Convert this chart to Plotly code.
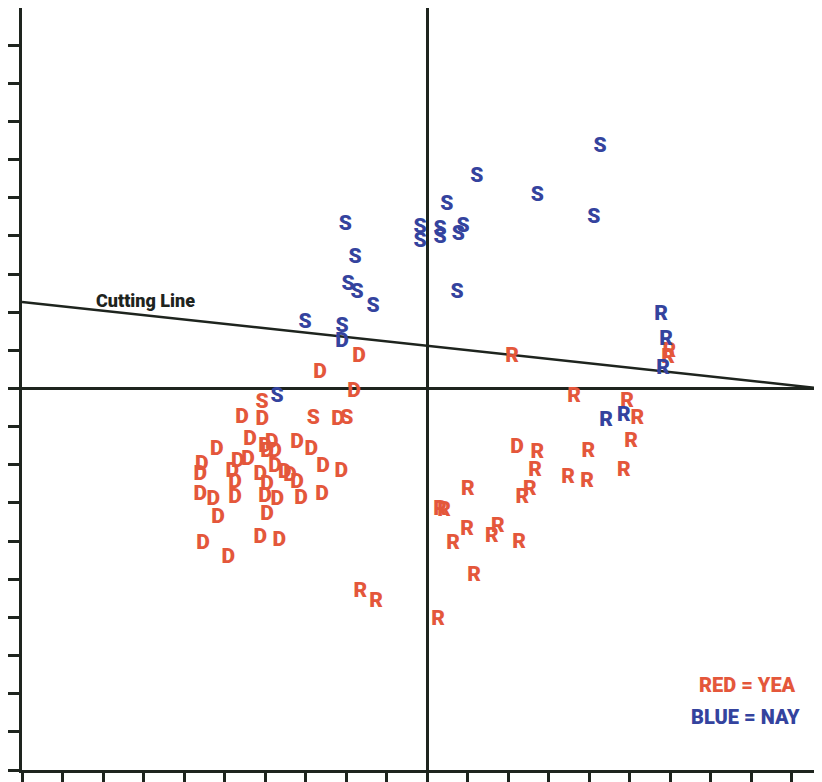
import plotly.graph_objects as go

# ---- data (NOMINATE-style coordinates) ----
# Nay voters (blue)
nay_party = ["S"] * 20 + ["D"] + ["R"] * 5
nay_x = [0.427, 0.123, 0.272, 0.412, 0.049, -0.202, -0.017, -0.017, 0.032, 0.032,
         0.089, 0.077, 0.074, -0.178, -0.195, -0.173, -0.133, -0.301, -0.210, -0.370,
         -0.210,
         0.578, 0.590, 0.583, 0.442, 0.486]
nay_y = [0.633, 0.554, 0.505, 0.447, 0.481, 0.429, 0.421, 0.384, 0.415, 0.394,
         0.423, 0.402, 0.250, 0.342, 0.271, 0.250, 0.214, 0.172, 0.161, -0.022,
         0.122,
         0.193, 0.127, 0.051, -0.085, -0.072]

# Yea voters (red)
yea_party = (["R"] * 27 + ["D"] + ["S"] * 3 + ["D"] * 41)
yea_x = [0.210, 0.598, 0.595, 0.363, 0.494, 0.519, 0.504, 0.272, 0.398, 0.267,
         0.348, 0.395, 0.486, 0.101, 0.254, 0.235, 0.032, 0.042, 0.099, 0.064,
         0.175, 0.160, 0.227, 0.116, 0.027, -0.165, -0.126,
         0.222,
         -0.407, -0.281, -0.198,
         -0.168, -0.264, -0.180, -0.457, -0.407, -0.220, -0.437, -0.519, -0.400, -0.383,
         -0.395, -0.375, -0.321, -0.286, -0.257, -0.212, -0.556, -0.560, -0.467, -0.442,
         -0.481, -0.412, -0.375, -0.351, -0.338, -0.321, -0.474, -0.395, -0.560, -0.528,
         -0.474, -0.400, -0.370, -0.311, -0.259, -0.516, -0.395, -0.553, -0.412, -0.365,
         -0.491]
yea_y = [0.083, 0.096, 0.080, -0.022, -0.035, -0.080, -0.140, -0.169, -0.166, -0.216,
         -0.235, -0.245, -0.216, -0.266, -0.266, -0.287, -0.318, -0.321, -0.371, -0.408,
         -0.363, -0.389, -0.405, -0.492, -0.607, -0.533, -0.559,
         -0.156,
         -0.038, -0.080, -0.080,
         0.083, 0.041, -0.009, -0.077, -0.082, -0.082, -0.135, -0.161, -0.153, -0.143,
         -0.166, -0.166, -0.143, -0.161, -0.206, -0.219, -0.201, -0.227, -0.193, -0.187,
         -0.219, -0.227, -0.206, -0.221, -0.229, -0.248, -0.248, -0.253, -0.279, -0.292,
         -0.287, -0.284, -0.292, -0.290, -0.279, -0.339, -0.332, -0.408, -0.392, -0.400,
         -0.444]

# Cutting line end points
cut_x = [-1.0, 0.975]
cut_y = [0.227, 0.0]

RED = "#E4573B"
BLUE = "#34439E"
INK = "#1E241E"
FONT = "Roboto, 'Liberation Sans', sans-serif"

fig = go.Figure()

fig.add_trace(go.Scatter(x=cut_x, y=cut_y, mode="lines",
                         line=dict(color=INK, width=2.5), hoverinfo="skip",
                         showlegend=False))

fig.add_trace(go.Scatter(x=yea_x, y=yea_y, mode="text", text=yea_party,
                         textposition="middle center",
                         textfont=dict(family=FONT, size=21, color=RED, weight=900),
                         name="Yea", showlegend=False, cliponaxis=False))
fig.add_trace(go.Scatter(x=nay_x, y=nay_y, mode="text", text=nay_party,
                         textposition="middle center",
                         textfont=dict(family=FONT, size=21, color=BLUE, weight=900),
                         name="Nay", showlegend=False, cliponaxis=False))

fig.add_annotation(x=-0.696, y=0.227, yshift=1, text="Cutting Line", showarrow=False,
                   font=dict(family=FONT, size=18, color=INK, weight=900),
                   xanchor="center", yanchor="middle")
fig.add_annotation(xref="paper", yref="paper", x=0.97, y=0.112, text="RED = YEA",
                   showarrow=False, xanchor="right", yanchor="middle",
                   font=dict(family=FONT, size=20, color=RED, weight=900))
fig.add_annotation(xref="paper", yref="paper", x=0.975, y=0.069, text="BLUE = NAY",
                   showarrow=False, xanchor="right", yanchor="middle",
                   font=dict(family=FONT, size=20, color=BLUE, weight=900))

fig.update_xaxes(range=[-1.0, 0.975], dtick=0.1, tick0=-1.0, ticks="outside",
                 ticklen=12, tickwidth=2.5, tickcolor=INK, showticklabels=False,
                 showgrid=False, showline=True, linewidth=2.5, linecolor=INK,
                 mirror=True, zeroline=True, zerolinecolor=INK, zerolinewidth=2.5,
                 automargin=False)
fig.update_yaxes(range=[-1.0, 0.9974], dtick=0.1, tick0=-1.0, ticks="outside",
                 ticklen=15, tickwidth=2.5, tickcolor=INK, showticklabels=False,
                 showgrid=False, showline=True, linewidth=2.5, linecolor=INK,
                 zeroline=True, zerolinecolor=INK, zerolinewidth=2.5,
                 automargin=False)

# page body adds an 8px margin, so the figure is sized to fit the window
fig.update_layout(width=814, height=774, margin=dict(l=14, r=0, t=0, b=12),
                  paper_bgcolor="white", plot_bgcolor="white")

fig.write_html("out.html")
